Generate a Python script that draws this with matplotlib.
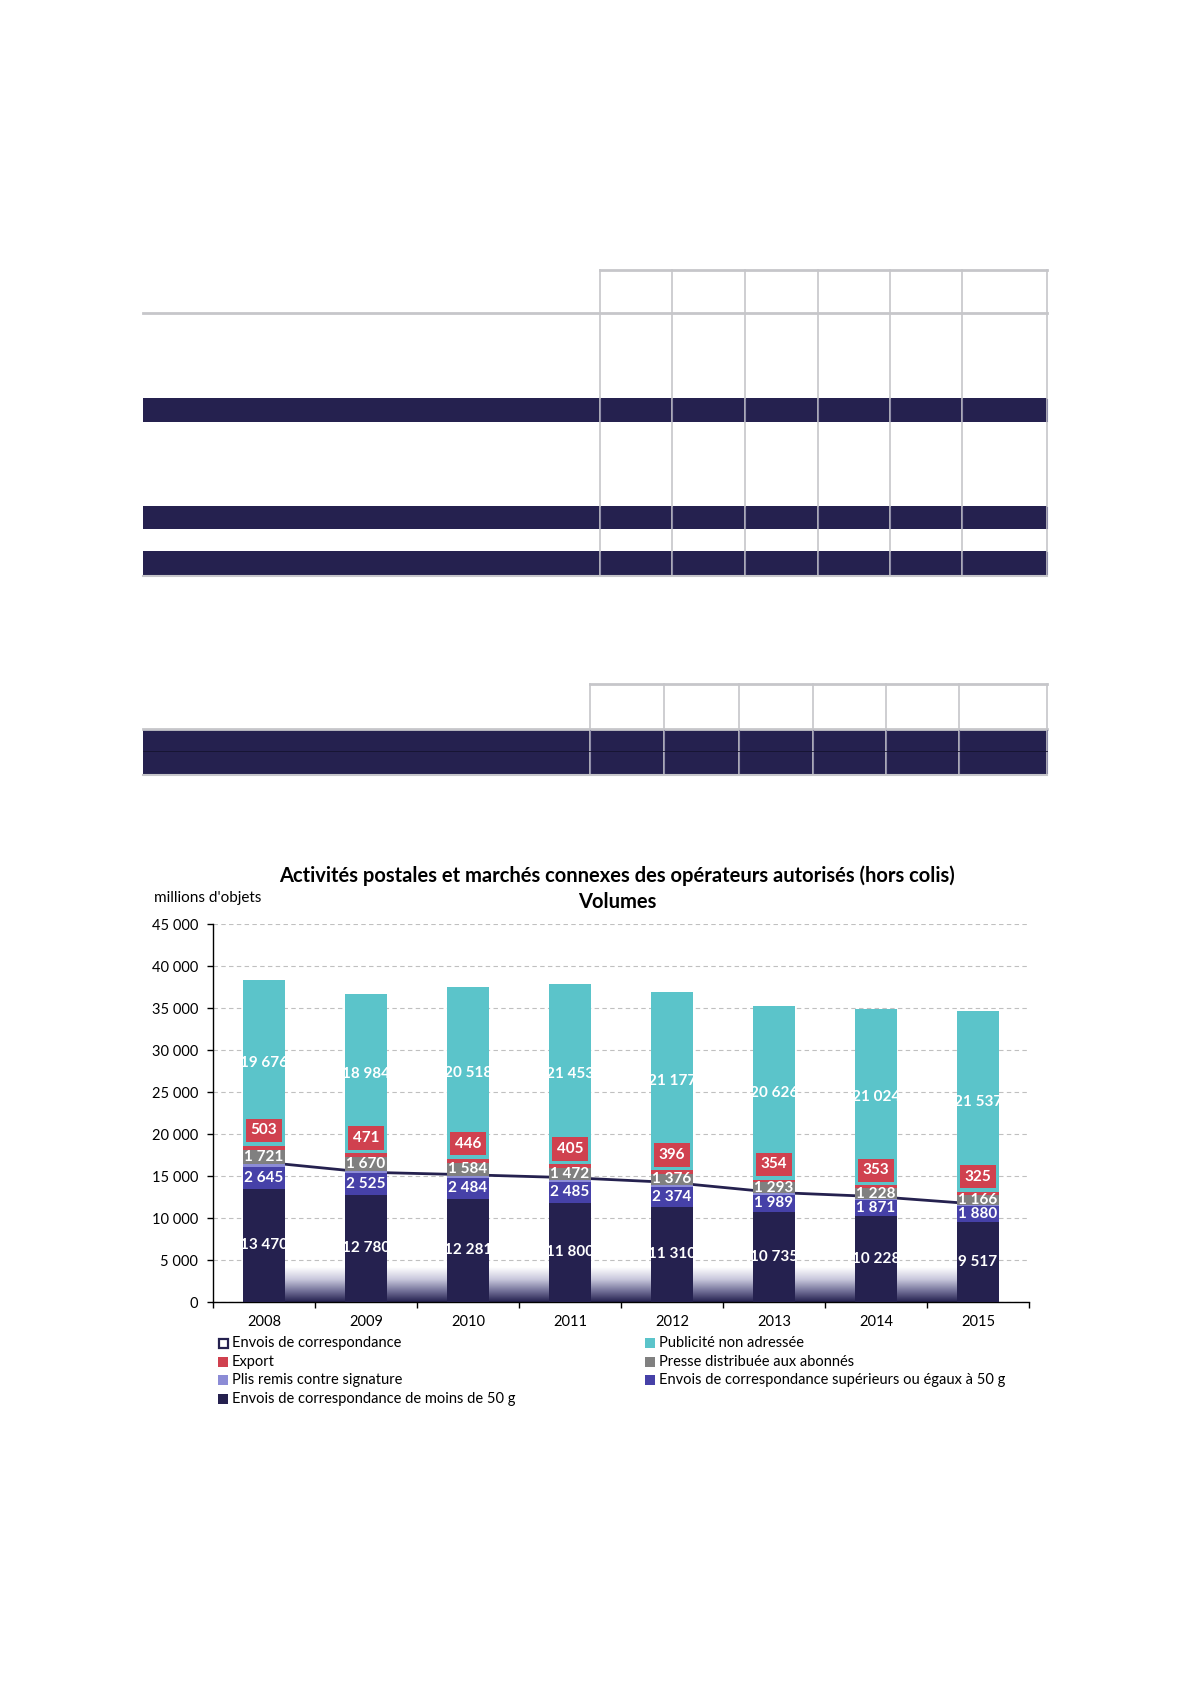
import numpy as np
import matplotlib
matplotlib.use('Agg')
import matplotlib.pyplot as plt
from matplotlib.patches import Rectangle
from matplotlib.colors import LinearSegmentedColormap
from matplotlib.ticker import FuncFormatter, FixedLocator

plt.rcParams['font.family'] = ['Lato', 'DejaVu Sans']

# --- données (millions d'objets) ---
years = ['2008', '2009', '2010', '2011', '2012', '2013', '2014', '2015']
moins_50g = [13470, 12780, 12281, 11800, 11310, 10735, 10228, 9517]
plus_50g = [2645, 2525, 2484, 2485, 2374, 1989, 1871, 1880]
plis_signature = [260, 250, 240, 230, 220, 210, 200, 190]
presse = [1721, 1670, 1584, 1472, 1376, 1293, 1228, 1166]
export = [503, 471, 446, 405, 396, 354, 353, 325]
publicite = [19676, 18984, 20518, 21453, 21177, 20626, 21024, 21537]
envois_corresp = [16650, 15450, 15150, 14800, 14230, 13050, 12550, 11650]

# couleurs
NAVY = '#25214F'
BLUE = '#4641A8'
LAV = '#8C8CD6'
GREY = '#808080'
RED = '#D0414F'
TEAL = '#5BC4CA'
LINEGREY = '#C6C6CA'


def fr(v, pos=None):
    return f"{v:,.0f}".replace(',', ' ')


fig = plt.figure(figsize=(11.9, 16.84), dpi=100)

# fond en pixels pour les tableaux et textes libres
bg = fig.add_axes([0, 0, 1, 1], zorder=-1)
bg.set_xlim(0, 1190)
bg.set_ylim(1684, 0)
bg.axis('off')


def draw_table(left, right, cols, head_top, head_bot, bands, bottom, mid_lines=()):
    # entête
    bg.plot([cols[0], right], [head_top, head_top], color=LINEGREY, lw=2)
    bg.plot([left, right], [head_bot, head_bot], color=LINEGREY, lw=2)
    for c in cols + [right]:
        bg.plot([c, c], [head_top, bottom], color=LINEGREY, lw=1.2)
    for (y0, y1) in bands:
        bg.add_patch(Rectangle((left, y0), right - left, y1 - y0, color=NAVY, lw=0))
        for c in cols + [right]:
            bg.plot([c, c], [y0 + 1, y1 - 1], color='#8E8CA8', lw=0.8)
    for y in mid_lines:
        bg.plot([left, right], [y, y], color='#15132F', lw=0.6)
    bg.plot([left, right], [bottom, bottom], color=LINEGREY, lw=1.5)


draw_table(143, 1047, [600, 672, 745, 818, 890, 962], 270, 313,
           [(398, 422), (506, 529), (551, 575)], 576)
draw_table(143, 1047, [590, 664, 739, 813, 886, 959], 684, 729,
           [(729, 774)], 775, mid_lines=(751,))

# --- graphique ---
ax = fig.add_axes([213 / 1190, (1684 - 1302) / 1684, 816 / 1190, 378 / 1684])
x = np.arange(len(years))
w = 0.41

series = [
    (moins_50g, NAVY, True),
    (plus_50g, BLUE, True),
    (plis_signature, LAV, False),
    (presse, GREY, True),
    (export, RED, False),
    (publicite, TEAL, True),
]

# ligne "Envois de correspondance" derrière les barres
ax.plot(x, envois_corresp, color=NAVY, lw=2, zorder=2)

# dégradé au pied des barres
grad = np.linspace(0, 1, 200).reshape(-1, 1)
cmap = LinearSegmentedColormap.from_list('sol', [(0, 'white'), (0.35, '#C8C7DC'),
                                                 (0.7, '#6F6D95'), (1, NAVY)])
ax.imshow(grad, extent=(-w / 2, len(years) - 1 + w / 2, 0, 4100), origin='upper',
          cmap=cmap, aspect='auto', zorder=1.5, interpolation='bilinear')

bottom = np.zeros(len(years))
for vals, col, lab in series:
    vals = np.array(vals)
    ax.bar(x, vals, w, bottom=bottom, color=col, zorder=3, linewidth=0)
    if lab:
        for xi, b, v in zip(x, bottom, vals):
            ax.text(xi, b + v / 2, fr(v), color='white', fontweight='bold', fontsize=11,
                    ha='center', va='center', zorder=5)
    if col == RED:
        for xi, b, v in zip(x, bottom, vals):
            ax.annotate(fr(v), xy=(xi, b + v), xytext=(0, 11), textcoords='offset points',
                        color='white', fontweight='bold', fontsize=11, ha='center', va='center',
                        zorder=6, bbox=dict(boxstyle='square,pad=0.3', fc=RED, ec='none'))
    bottom = bottom + vals

ax.set_xlim(-0.5, len(years) - 0.5)
ax.set_ylim(0, 45000)
ax.set_yticks(np.arange(0, 45001, 5000))
ax.yaxis.set_major_formatter(FuncFormatter(fr))
ax.set_xticks(x)
ax.set_xticklabels(years)
ax.xaxis.set_minor_locator(FixedLocator(np.arange(-0.5, len(years), 1.0)))
ax.tick_params(axis='x', which='major', length=0, pad=9, labelsize=10.5)
ax.tick_params(axis='x', which='minor', length=4.5, width=1, direction='out')
ax.tick_params(axis='y', length=4.3, width=1, pad=6.5, labelsize=10.5)
ax.yaxis.grid(True, linestyle=(0, (4, 3)), color='#C0C0C0', lw=0.8)
ax.set_axisbelow(True)
for s in ['top', 'right']:
    ax.spines[s].set_visible(False)
for s in ['left', 'bottom']:
    ax.spines[s].set_color('black')
    ax.spines[s].set_linewidth(1)

# titres
bg.text(617, 876, "Activités postales et marchés connexes des opérateurs autorisés (hors colis)",
        ha='center', va='center', fontsize=14.5, fontweight='bold')
bg.text(617, 902, "Volumes", ha='center', va='center', fontsize=14.5, fontweight='bold')
bg.text(154, 898, "millions d'objets", ha='left', va='center', fontsize=11)

# légende
legend_left = [("Envois de correspondance", None), ("Export", RED),
               ("Plis remis contre signature", LAV),
               ("Envois de correspondance de moins de 50 g", NAVY)]
legend_right = [("Publicité non adressée", TEAL), ("Presse distribuée aux abonnés", GREY),
                ("Envois de correspondance supérieurs ou égaux à 50 g", BLUE)]
rows_y = [1343, 1362, 1380, 1399]
for col_x, items in [(218, legend_left), (645, legend_right)]:
    for (label, col), yy in zip(items, rows_y):
        if col is None:
            bg.add_patch(Rectangle((col_x + 0.5, yy - 4.5), 9, 9, fc='white', ec=NAVY, lw=1.6))
        else:
            bg.add_patch(Rectangle((col_x, yy - 5), 10, 10, fc=col, ec='none'))
        bg.text(col_x + 14, yy, label, ha='left', va='center', fontsize=10.5)

fig.savefig('out.png', dpi=100)
